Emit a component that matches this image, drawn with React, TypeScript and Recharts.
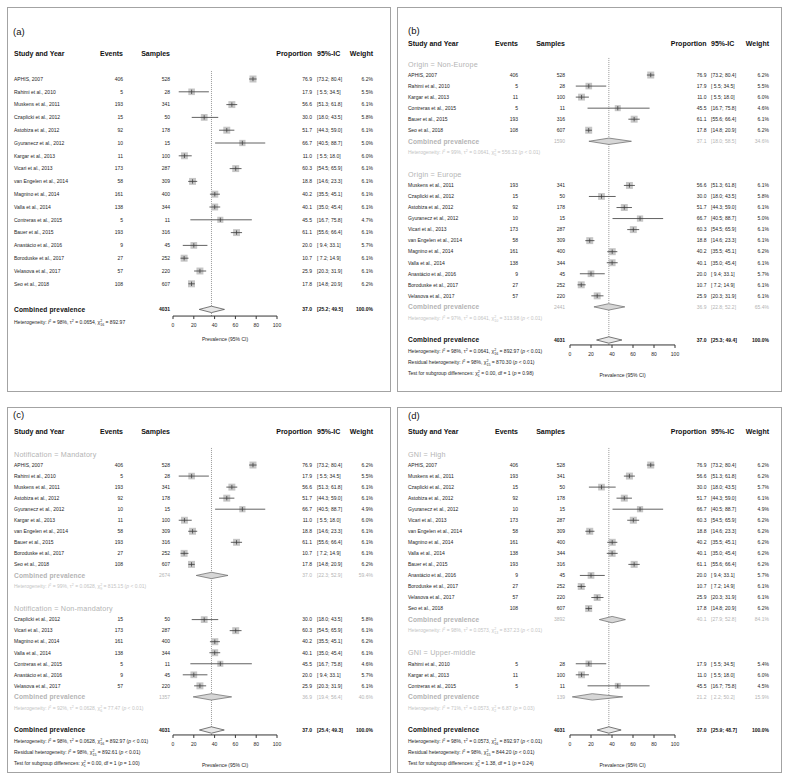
import React from 'react';
import { ScatterChart, Scatter, XAxis, YAxis, ReferenceLine } from 'recharts';

const FONT = '"Liberation Sans", Arial, Helvetica, sans-serif';

// ---------------- data ----------------
const studyNames = [
  'APHIS, 2007', 'Rahimi et al., 2010', 'Muskens et al., 2011', 'Czaplicki et al., 2012',
  'Astobiza et al., 2012', 'Gyuranecz et al., 2012', 'Kargar et al., 2013', 'Vicari et al., 2013',
  'van Engelen et al., 2014', 'Magnino et al., 2014', 'Valla et al., 2014', 'Contreras et al., 2015',
  'Bauer et al., 2015', 'Anastácio et al., 2016', 'Boroduske et al., 2017', 'Velasova et al., 2017',
  'Seo et al., 2018',
];
const events = [406, 5, 193, 15, 92, 10, 11, 173, 58, 161, 138, 5, 193, 9, 27, 57, 108];
const samples = [528, 28, 341, 50, 178, 15, 100, 287, 309, 400, 344, 11, 316, 45, 252, 220, 607];
const proportion = [76.9, 17.9, 56.6, 30.0, 51.7, 66.7, 11.0, 60.3, 18.8, 40.2, 40.1, 45.5, 61.1, 20.0, 10.7, 25.9, 17.8];
const ciLower = [73.2, 5.5, 51.3, 18.0, 44.3, 40.5, 5.5, 54.5, 14.6, 35.5, 35.0, 16.7, 55.6, 9.4, 7.2, 20.3, 14.8];
const ciUpper = [80.4, 34.5, 61.8, 43.5, 59.0, 88.7, 18.0, 65.9, 23.3, 45.1, 45.4, 75.8, 66.4, 33.1, 14.9, 31.9, 20.9];

const xTicks = [0, 20, 40, 60, 80, 100];
const referenceValue = 37.0;

// (a) all studies
const allStudies = [0, 1, 2, 3, 4, 5, 6, 7, 8, 9, 10, 11, 12, 13, 14, 15, 16];
const weightsAll = [6.2, 5.5, 6.1, 5.8, 6.1, 5.0, 6.0, 6.1, 6.1, 6.1, 6.1, 4.7, 6.1, 5.7, 6.1, 6.1, 6.2];
const overallA = [37.0, 25.2, 49.5];
const hetA = ['98%', '0.0654', '16', '892.97', ''];

// (b) origin
const nonEurope = [0, 1, 6, 11, 12, 16];
const weightsNonEurope = [6.2, 5.5, 6.0, 4.6, 6.1, 6.2];
const pooledNonEurope = [37.1, 18.0, 58.5, 34.6];
const hetNonEurope = ['99%', '0.0641', '5', '556.32', '< 0.01'];
const europe = [2, 3, 4, 5, 7, 8, 9, 10, 13, 14, 15];
const weightsEurope = [6.1, 5.8, 6.1, 5.0, 6.1, 6.1, 6.2, 6.1, 5.7, 6.1, 6.1];
const pooledEurope = [36.9, 22.8, 52.2, 65.4];
const hetEurope = ['97%', '0.0641', '10', '313.98', '< 0.01'];
const overallB = [37.0, 25.3, 49.4];
const hetB = ['98%', '0.0641', '16', '892.97', '< 0.01'];
const residB = ['98%', '15', '870.30', '< 0.01'];
const testB = ['0.00', '1', '= 0.98'];

// (c) notification
const mandatory = [0, 1, 2, 4, 5, 6, 8, 12, 14, 16];
const weightsMandatory = [6.2, 5.5, 6.1, 6.1, 4.9, 6.0, 6.1, 6.1, 6.1, 6.2];
const pooledMandatory = [37.0, 22.3, 52.9, 59.4];
const hetMandatory = ['99%', '0.0628', '9', '815.15', '< 0.01'];
const nonMandatory = [3, 7, 9, 10, 11, 13, 15];
const weightsNonMandatory = [5.8, 6.1, 6.2, 6.1, 4.6, 5.7, 6.1];
const pooledNonMandatory = [36.9, 19.4, 56.4, 40.6];
const hetNonMandatory = ['92%', '0.0628', '6', '77.47', '< 0.01'];
const overallC = [37.0, 25.4, 49.3];
const hetC = ['98%', '0.0628', '16', '892.97', '< 0.01'];
const residC = ['98%', '15', '892.61', '< 0.01'];
const testC = ['0.00', '1', '= 1.00'];

// (d) GNI
const gniHigh = [0, 2, 3, 4, 5, 7, 8, 9, 10, 12, 13, 14, 15, 16];
const weightsHigh = [6.2, 6.2, 5.7, 6.1, 4.9, 6.2, 6.2, 6.2, 6.2, 6.2, 5.7, 6.1, 6.1, 6.2];
const pooledHigh = [40.1, 27.9, 52.8, 84.1];
const hetHigh = ['98%', '0.0573', '13', '837.23', '< 0.01'];
const gniUpperMiddle = [1, 6, 11];
const weightsUpperMiddle = [5.4, 6.0, 4.5];
const pooledUpperMiddle = [21.2, 2.2, 50.2, 15.9];
const hetUpperMiddle = ['71%', '0.0573', '2', '6.87', '= 0.03'];
const overallD = [37.0, 25.9, 48.7];
const hetD = ['98%', '0.0573', '16', '892.97', '< 0.01'];
const residD = ['98%', '15', '844.20', '< 0.01'];
const testD = ['1.38', '1', '= 0.24'];

// ---------------- layout ----------------
const leftCols = { tagX: 6, name: 7, events: 116, samples: 163, plotL: 166, plotR: 270, prop: 305, ci: 310, weight: 366 };
const rightCols = { tagX: 11, name: 11, events: 121, samples: 168, plotL: 173, plotR: 278, prop: 309.5, ci: 314, weight: 372 };

const TEXT = '#1e1e1e';
const SUB_TEXT = '#b4b4b4';
const SUB_HET = '#c4c4c4';

const panels = [
  {
    tag: '(a)', left: 7, top: 7, width: 384, height: 385, cols: leftCols,
    r0: 72, step: 12.8, domain: [-0.7, 18.52], headerPos: -2, tagY: 25, labelGap: 23,
    groups: [{ label: '', members: allStudies, weights: weightsAll, pooled: null, het: null }],
    overall: overallA, het: hetA, resid: null, test: null,
  },
  {
    tag: '(b)', left: 397, top: 7, width: 385, height: 385, cols: rightCols,
    r0: 57, step: 11.04, domain: [-0.55, 25.45], headerPos: -1.9, tagY: 24, labelGap: 30,
    groups: [
      { label: 'Origin = Non-Europe', members: nonEurope, weights: weightsNonEurope, pooled: pooledNonEurope, het: hetNonEurope },
      { label: 'Origin = Europe', members: europe, weights: weightsEurope, pooled: pooledEurope, het: hetEurope },
    ],
    overall: overallB, het: hetB, resid: residB, test: testB,
  },
  {
    tag: '(c)', left: 7, top: 407, width: 384, height: 366, cols: leftCols,
    r0: 47, step: 11.04, domain: [-0.55, 25.45], headerPos: -2, tagY: 8, labelGap: 30,
    groups: [
      { label: 'Notification = Mandatory', members: mandatory, weights: weightsMandatory, pooled: pooledMandatory, het: hetMandatory },
      { label: 'Notification = Non-mandatory', members: nonMandatory, weights: weightsNonMandatory, pooled: pooledNonMandatory, het: hetNonMandatory },
    ],
    overall: overallC, het: hetC, resid: residC, test: testC,
  },
  {
    tag: '(d)', left: 397, top: 407, width: 385, height: 366, cols: rightCols,
    r0: 47, step: 11.04, domain: [-0.55, 25.45], headerPos: -2, tagY: 9, labelGap: 30,
    groups: [
      { label: 'GNI = High', members: gniHigh, weights: weightsHigh, pooled: pooledHigh, het: hetHigh },
      { label: 'GNI = Upper-middle', members: gniUpperMiddle, weights: weightsUpperMiddle, pooled: pooledUpperMiddle, het: hetUpperMiddle },
    ],
    overall: overallD, het: hetD, resid: residD, test: testD,
  },
];

const fmt1 = (v: number) => v.toFixed(1);
const fmtCI = (lo: number, hi: number) => `[${lo < 10 ? ' ' : ''}${lo.toFixed(1)}; ${hi.toFixed(1)}]`;

function buildRows(panel: any) {
  const rows: any[] = [{ pos: panel.headerPos, kind: 'header' }];
  let p = 0;
  panel.groups.forEach((g: any) => {
    if (g.label) rows.push({ pos: p++, kind: 'group', text: g.label });
    g.members.forEach((idx: number, k: number) => rows.push({ pos: p++, kind: 'study', idx, w: g.weights[k] }));
    if (g.pooled) {
      const n = g.members.reduce((s: number, i: number) => s + samples[i], 0);
      rows.push({ pos: p++, kind: 'subtotal', n, est: g.pooled[0], lo: g.pooled[1], hi: g.pooled[2], w: g.pooled[3] });
      rows.push({ pos: p++, kind: 'subhet', het: g.het });
    }
    p++;
  });
  const total = samples.reduce((s, v) => s + v, 0);
  rows.push({ pos: p++, kind: 'total', n: total, est: panel.overall[0], lo: panel.overall[1], hi: panel.overall[2], w: 100 });
  rows.push({ pos: p++, kind: 'het', het: panel.het });
  if (panel.resid) rows.push({ pos: p++, kind: 'resid', stat: panel.resid });
  if (panel.test) rows.push({ pos: p++, kind: 'test', stat: panel.test });
  return rows;
}

const FS = 5;
const SMALL = FS * 0.72;
const UP = FS * 0.42;
const DN = FS * 0.36;
const SUPW = 0.556 * SMALL;

function HetText({ x, y, fill, h }: any) {
  return (
    <text x={x} y={y} fontSize={FS} fill={fill}>
      {'Heterogeneity: '}
      <tspan fontStyle="italic">I</tspan>
      <tspan fontSize={SMALL} dy={-UP}>2</tspan>
      <tspan dy={UP}>{` = ${h[0]}, τ`}</tspan>
      <tspan fontSize={SMALL} dy={-UP}>2</tspan>
      <tspan dy={UP}>{` = ${h[1]}, χ`}</tspan>
      <tspan fontSize={SMALL} dy={-UP}>2</tspan>
      <tspan fontSize={SMALL} dx={-SUPW} dy={UP + DN}>{h[2]}</tspan>
      <tspan dy={-DN}>{` = ${h[3]}`}</tspan>
      {h[4] ? <tspan>{' ('}</tspan> : null}
      {h[4] ? <tspan fontStyle="italic">p</tspan> : null}
      {h[4] ? <tspan>{` ${h[4]})`}</tspan> : null}
    </text>
  );
}

function ResidText({ x, y, s }: any) {
  return (
    <text x={x} y={y} fontSize={FS} fill={TEXT}>
      {'Residual heterogeneity: '}
      <tspan fontStyle="italic">I</tspan>
      <tspan fontSize={SMALL} dy={-UP}>2</tspan>
      <tspan dy={UP}>{` = ${s[0]}, χ`}</tspan>
      <tspan fontSize={SMALL} dy={-UP}>2</tspan>
      <tspan fontSize={SMALL} dx={-SUPW} dy={UP + DN}>{s[1]}</tspan>
      <tspan dy={-DN}>{` = ${s[2]} (`}</tspan>
      <tspan fontStyle="italic">p</tspan>
      <tspan>{` ${s[3]})`}</tspan>
    </text>
  );
}

function TestText({ x, y, s }: any) {
  return (
    <text x={x} y={y} fontSize={FS} fill={TEXT}>
      {'Test for subgroup differences: χ'}
      <tspan fontSize={SMALL} dy={-UP}>2</tspan>
      <tspan fontSize={SMALL} dx={-SUPW} dy={UP + DN}>{s[1]}</tspan>
      <tspan dy={-DN}>{` = ${s[0]}, df = ${s[1]} (`}</tspan>
      <tspan fontStyle="italic">p</tspan>
      <tspan>{` ${s[2]})`}</tspan>
    </text>
  );
}

function RowTick(props: any) {
  const { y, row, cols: c } = props;
  if (!row) return <g />;
  const b = y + FS * 0.36;
  switch (row.kind) {
    case 'header': {
      const hb = y + 7 * 0.36;
      return (
        <g fontSize={7} fontWeight="bold" fill="#111">
          <text x={c.name} y={hb}>Study and Year</text>
          <text x={c.events} y={hb} textAnchor="end">Events</text>
          <text x={c.samples} y={hb} textAnchor="end">Samples</text>
          <text x={c.prop} y={hb} textAnchor="end">Proportion</text>
          <text x={c.ci} y={hb}>95%-IC</text>
          <text x={c.weight} y={hb} textAnchor="end">Weight</text>
        </g>
      );
    }
    case 'group':
      return <text x={c.name} y={y + 7.2 * 0.36} fontSize={7.2} fill={SUB_TEXT} letterSpacing={0.2}>{row.text}</text>;
    case 'study': {
      const i = row.idx;
      return (
        <g fontSize={FS} fill={TEXT}>
          <text x={c.name} y={b}>{studyNames[i]}</text>
          <text x={c.events} y={b} textAnchor="end">{events[i]}</text>
          <text x={c.samples} y={b} textAnchor="end">{samples[i]}</text>
          <text x={c.prop} y={b} textAnchor="end">{fmt1(proportion[i])}</text>
          <text x={c.ci} y={b} xmlSpace="preserve">{fmtCI(ciLower[i], ciUpper[i])}</text>
          <text x={c.weight} y={b} textAnchor="end">{`${fmt1(row.w)}%`}</text>
        </g>
      );
    }
    case 'subtotal':
    case 'total': {
      const isTotal = row.kind === 'total';
      const col = isTotal ? '#111' : SUB_TEXT;
      const wt = isTotal ? 'bold' : 'normal';
      return (
        <g fill={col}>
          <text x={c.name} y={y + 6.6 * 0.36} fontSize={6.6} fontWeight="bold" letterSpacing={0.15}>Combined prevalence</text>
          <g fontSize={FS} fontWeight={wt}>
            <text x={c.samples} y={b} textAnchor="end">{row.n}</text>
            <text x={c.prop} y={b} textAnchor="end">{fmt1(row.est)}</text>
            <text x={c.ci} y={b} xmlSpace="preserve">{fmtCI(row.lo, row.hi)}</text>
            <text x={c.weight} y={b} textAnchor="end">{`${fmt1(row.w)}%`}</text>
          </g>
        </g>
      );
    }
    case 'subhet':
      return <HetText x={c.name} y={b} fill={SUB_HET} h={row.het} />;
    case 'het':
      return <HetText x={c.name} y={b} fill={TEXT} h={row.het} />;
    case 'resid':
      return <ResidText x={c.name} y={b} s={row.stat} />;
    case 'test':
      return <TestText x={c.name} y={b} s={row.stat} />;
    default:
      return <g />;
  }
}

const SquareShape = (p: any) => {
  const side = 7 * Math.sqrt(p.payload.w / 6.2);
  return (
    <g>
      <rect x={p.cx - side / 2} y={p.cy - side / 2} width={side} height={side} fill="#c6c6c6" />
      <line x1={p.cx} x2={p.cx} y1={p.cy - 2.2} y2={p.cy + 2.2} stroke="#333" strokeWidth={0.7} />
    </g>
  );
};

const EmptyShape = () => <g />;

// CI segments: consecutive pairs of points (lower, upper) form one segment each
const ciSegments = (props: any) => {
  const pts = props.points || [];
  let d = '';
  for (let k = 0; k + 1 < pts.length; k += 2) {
    d += `M${pts[k].x},${pts[k].y}L${pts[k + 1].x},${pts[k + 1].y}`;
  }
  return <path d={d} fill="none" stroke="#3a3a3a" strokeWidth={0.8} />;
};

const diamondLine = (fill: string, stroke: string) => (props: any) => {
  const pts = (props.points || []).map((q: any) => `${q.x},${q.y}`).join(' ');
  return <polygon points={pts} fill={fill} stroke={stroke} strokeWidth={0.7} />;
};

function ForestPanel({ cfg }: { cfg: any }) {
  const rows = buildRows(cfg);
  const rowMap = new Map(rows.map((r) => [r.pos, r]));
  const studyRows = rows.filter((r) => r.kind === 'study');
  const squares = studyRows.map((r) => ({ x: proportion[r.idx], y: r.pos, w: r.w }));
  const ciPoints = studyRows.flatMap((r) => [
    { x: ciLower[r.idx], y: r.pos },
    { x: ciUpper[r.idx], y: r.pos },
  ]);
  const dh = 3.2 / cfg.step;
  const diamonds = rows
    .filter((r) => r.kind === 'subtotal' || r.kind === 'total')
    .map((r) => ({
      total: r.kind === 'total',
      pos: r.pos,
      data: [
        { x: r.lo, y: r.pos },
        { x: r.est, y: r.pos - dh },
        { x: r.hi, y: r.pos },
        { x: r.est, y: r.pos + dh },
      ],
    }));
  const c = cfg.cols;
  const plotTop = cfg.r0 + cfg.domain[0] * cfg.step;
  const plotBottom = cfg.r0 + cfg.domain[1] * cfg.step;
  const xAxisH = cfg.labelGap + 2;
  const margin = {
    top: plotTop,
    left: c.plotL - 1,
    right: cfg.width - c.plotR,
    bottom: cfg.height - plotBottom - xAxisH,
  };
  return (
    <div style={{ position: 'absolute', left: cfg.left, top: cfg.top, width: cfg.width, height: cfg.height }}>
      <div style={{ position: 'absolute', left: 0, top: 0, width: cfg.width, height: cfg.height, border: '1px solid #a3a3a3', boxSizing: 'border-box' }} />
      <div style={{ position: 'absolute', left: c.tagX, top: cfg.tagY - 6, fontSize: 9.5, lineHeight: '12px', color: '#111' }}>{cfg.tag}</div>
      <div style={{ position: 'absolute', left: 0, top: 0 }}>
        <ScatterChart width={cfg.width} height={cfg.height} margin={margin}>
          <XAxis
            type="number"
            dataKey="x"
            domain={[0, 100]}
            ticks={xTicks}
            allowDataOverflow
            interval={0}
            tickSize={3}
            tickMargin={4.5}
            height={xAxisH}
            stroke="#333"
            tick={{ fontSize: 5, fill: TEXT }}
            label={{ value: 'Prevalence (95% CI)', position: 'insideBottom', offset: 0, fontSize: 5, fill: TEXT }}
          />
          <YAxis
            type="number"
            dataKey="y"
            domain={cfg.domain}
            reversed
            allowDataOverflow
            width={1}
            ticks={rows.map((r) => r.pos)}
            interval={0}
            axisLine={false}
            tickLine={false}
            tick={(p: any) => <RowTick {...p} row={rowMap.get(p.payload.value)} cols={c} />}
          />
          <ReferenceLine x={referenceValue} stroke="#555" strokeDasharray="1 1" strokeWidth={0.6} />
          {diamonds.map((d) => (
            <Scatter
              key={`d${d.pos}`}
              data={d.data}
              isAnimationActive={false}
              shape={EmptyShape}
              line={diamondLine(d.total ? '#e8e8e8' : '#d6d6d6', d.total ? '#444' : '#666')}
            />
          ))}
          <Scatter data={squares} isAnimationActive={false} shape={SquareShape} />
          <Scatter data={ciPoints} isAnimationActive={false} shape={EmptyShape} line={ciSegments} />
        </ScatterChart>
      </div>
    </div>
  );
}

export default function App() {
  return (
    <div style={{ position: 'absolute', left: 0, top: 0, width: 788, height: 779, background: '#fff', fontFamily: FONT }}>
      {panels.map((p) => (
        <ForestPanel key={p.tag} cfg={p} />
      ))}
    </div>
  );
}
